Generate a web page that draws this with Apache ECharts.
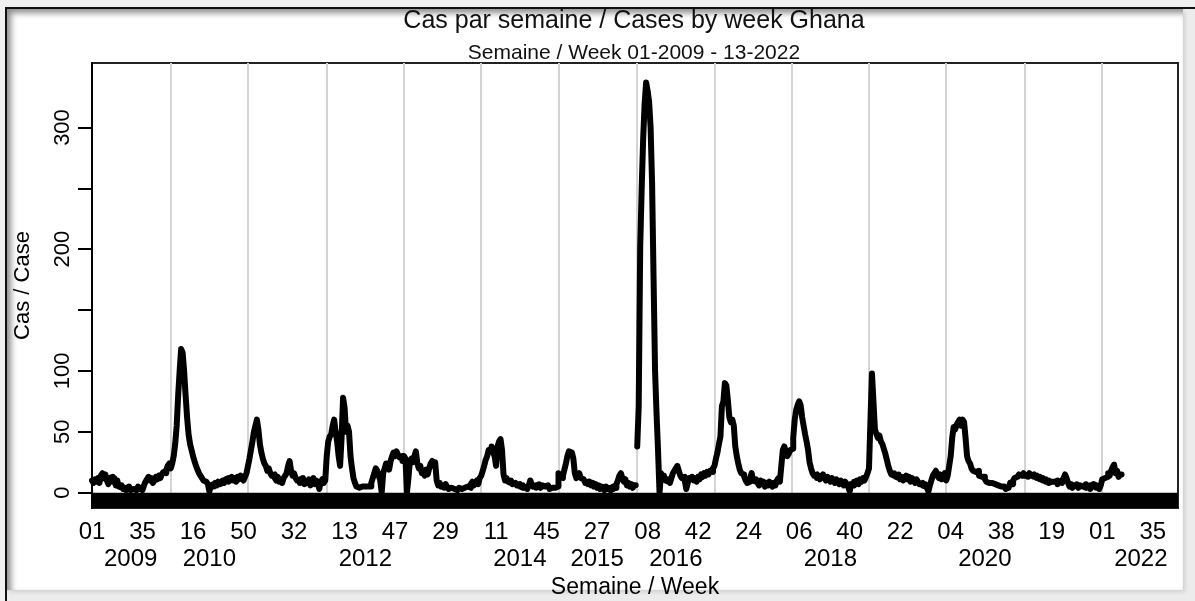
<!DOCTYPE html>
<html>
<head>
<meta charset="utf-8">
<title>Cas par semaine / Cases by week Ghana</title>
<script src="https://cdn.jsdelivr.net/npm/echarts@6/dist/echarts.min.js"></script>
<style>
  html, body { margin: 0; padding: 0; background: #f0f0f0; overflow: hidden; }
  #frame { position: absolute; left: 5px; top: 7px; width: 1190px; height: 594px;
           border-top: 2px solid #111; border-left: 2px solid #111; background: #ececec; }
  #panel { position: absolute; left: 0; top: 0; width: 1176px; height: 581px; background: #fff;
           box-shadow: inset 4px 4px 6px rgba(0,0,0,0.45), 2px 2px 4px rgba(0,0,0,0.12); }
  #chart { position: absolute; left: 0; top: 0; width: 1195px; height: 601px; }
</style>
</head>
<body>
<div id="frame"><div id="panel"></div></div>
<div id="chart"></div>
<script>
// weekly cases, one array per year (week 01 first)
const years = [2009, 2010, 2011, 2012, 2013, 2014, 2015, 2016, 2017, 2018, 2019, 2020, 2021, 2022]
const weeksInYear = [53, 52, 53, 52, 52, 52, 53, 52, 52, 52, 52, 53, 52, 52]

const cases2009 = [10, 8, 11, 9, 12, 8, 14, 16, 12, 15, 10, 7, 12, 13, 9, 12, 6, 10, 5, 4,
  6, 3, 4, 2, 3, 5, 2, 3, 4, 2, 3, 5, 3, 4, 2, 6, 9, 11, 13, 10,
  12, 8, 10, 13, 11, 14, 12, 15, 17, 16, 19, 22, 24]
const cases2010 = [20, 24, 30, 40, 55, 80, 100, 118, 115, 100, 80, 62, 48, 40, 35, 30, 26, 22, 19, 16,
  14, 12, 10, 9, 8, 7, 1, 6, 7, 5, 8, 6, 9, 7, 8, 10, 8, 11, 12, 9,
  11, 13, 10, 12, 9, 13, 11, 14, 12, 10, 13, 16]
const cases2011 = [22, 28, 35, 42, 50, 55, 60, 52, 40, 33, 28, 24, 22, 18, 20, 16, 14, 15, 12, 10,
  13, 9, 11, 8, 12, 14, 16, 22, 26, 18, 14, 16, 12, 10, 11, 8, 9, 12, 7, 10,
  8, 11, 6, 9, 12, 7, 10, 8, 3, 9, 11, 8, 10]
const cases2012 = [30, 42, 46, 48, 55, 60, 50, 42, 30, 22, 45, 78, 70, 50, 55, 50, 30, 20, 12, 8,
  5, 4, 5, 5, 4, 5, 4, 5, 6, 5, 8, 12, 16, 20, 18, 14, 10, 0, 16, 20,
  24, 22, 19, 26, 30, 33, 30, 34, 31, 29, 30, 26]
const cases2013 = [30, 28, 0, 12, 26, 28, 25, 30, 34, 24, 20, 22, 16, 18, 14, 19, 15, 20, 24, 26,
  22, 25, 10, 6, 8, 5, 6, 4, 7, 5, 3, 4, 5, 3, 4, 2, 3, 4, 3, 2,
  4, 3, 5, 6, 4, 7, 9, 6, 8, 10, 7, 12]
const cases2014 = [14, 18, 22, 27, 30, 35, 36, 38, 33, 30, 22, 38, 42, 44, 35, 15, 10, 12, 9, 8,
  10, 7, 8, 9, 6, 7, 5, 4, 6, 4, 5, 3, 6, 10, 7, 5, 6, 4, 5, 7,
  4, 6, 5, 4, 6, 5, 3, 4, 5, 4, 3, 5]
const cases2015 = [16, 13, 12, 14, 19, 24, 30, 34, 33, 32, 28, 16, 12, 14, 16, 12, 11, 10, 8, 9,
  7, 9, 6, 8, 5, 7, 4, 6, 3, 5, 4, 2, 5, 3, 4, 2, 3, 5, 4, 7,
  10, 14, 16, 12, 9, 11, 6, 8, 5, 7, 4, 6, null]
const cases2016 = [38, 71, 202, 250, 291, 320, 337, 330, 321, 300, 254, 176, 100, 65, 35, 0, 16, 12, 14, 10,
  9, 11, 8, 12, 16, 18, 20, 22, 18, 14, 12, 13, 10, 3, 8, 12, 11, 13, 10, 12,
  9, 13, 11, 15, 13, 16, 14, 17, 15, 18, 17, 20]
const cases2017 = [22, 28, 33, 40, 46, 71, 75, 90, 88, 76, 62, 58, 60, 55, 38, 30, 24, 19, 16, 15,
  13, 10, 8, 9, 12, 16, 10, 9, 11, 8, 6, 10, 7, 9, 5, 8, 6, 9, 7, 5,
  8, 6, 10, 12, 9, 22, 35, 38, 34, 30, 32, 35]
const cases2018 = [36, 45, 60, 68, 72, 75, 72, 62, 55, 48, 42, 35, 25, 20, 16, 14, 15, 12, 14, 11,
  13, 15, 12, 10, 13, 11, 9, 12, 10, 8, 11, 9, 7, 10, 8, 6, 9, 7, 5, 1,
  7, 6, 9, 8, 10, 7, 11, 9, 12, 10, 13, 16]
const cases2019 = [20, 60, 98, 75, 52, 48, 45, 47, 42, 40, 36, 32, 27, 22, 18, 15, 14, 16, 13, 12,
  15, 11, 13, 10, 12, 14, 11, 13, 9, 12, 10, 8, 11, 9, 7, 8, 6, 5, 7, 4,
  1, 6, 10, 14, 16, 18, 14, 12, 15, 11, 13, 16]
const cases2020 = [10, 14, 22, 30, 45, 54, 52, 56, 58, 60, 55, 60, 58, 45, 30, 26, 24, 20, 18, 17,
  16, 18, 14, 13, 12, 13, 11, 9, 8, 7, 8, 9, 7, 8, 6, 7, 5, 4, 5, 4,
  3, 4, 5, 8, 7, 10, 12, 13, 14, 15, 14, 15, 16]
const cases2021 = [14, 15, 13, 16, 14, 15, 13, 14, 12, 13, 11, 12, 10, 11, 9, 10, 8, 9, 10, 9,
  8, 10, 7, 9, 8, 10, 12, 15, 12, 8, 5, 7, 4, 6, 5, 7, 4, 6, 5, 6,
  4, 7, 5, 6, 3, 5, 7, 6, 4, 5, 3, 6]
const cases2022 = [11, 12, 12, 13, 16, 14, 18, 21, 23, 16, 18, 13, 15]

const yearCases = [cases2009, cases2010, cases2011, cases2012, cases2013, cases2014, cases2015,
  cases2016, cases2017, cases2018, cases2019, cases2020, cases2021, cases2022]

// axis labels
const weekLabelStep = 34
const yearLabelYears = [2009, 2010, 2012, 2014, 2015, 2016, 2018, 2020, 2022]
const yTicks = [0, 50, 100, 150, 200, 250, 300]
const yTickLabels = [0, 50, 100, 200, 300]
const yMin = -12.6
const yMax = 353

const font = 'Liberation Sans, Arial, sans-serif'

const weekLabels = []
const values = []
const yearStarts = new Set()
const yearMid = {}
let pos = 0
years.forEach((y, i) => {
  if (pos > 0) yearStarts.add(pos)
  for (let w = 1; w <= weeksInYear[i]; w++) {
    weekLabels.push(String(w).padStart(2, '0'))
    const v = yearCases[i][w - 1]
    values.push(v === undefined ? null : v)
  }
  if (yearLabelYears.includes(y)) yearMid[pos + 26] = String(y)
  pos += weeksInYear[i]
})

const chart = echarts.init(document.getElementById('chart'))

const option = {
  animation: false,
  title: {
    text: 'Cas par semaine / Cases by week Ghana',
    subtext: 'Semaine / Week 01-2009 - 13-2022',
    left: 629,
    top: 4,
    textAlign: 'center',
    itemGap: 9,
    textStyle: { fontFamily: font, fontSize: 25, fontWeight: 'normal', color: '#111' },
    subtextStyle: { fontFamily: font, fontSize: 21, color: '#111' }
  },
  grid: {
    left: 92, right: 17, top: 63, bottom: 93,
    outerBoundsMode: 'none',
    show: true, borderColor: '#222', borderWidth: 2
  },
  xAxis: [
    {
      type: 'category',
      data: weekLabels,
      boundaryGap: false,
      axisLine: { show: false },
      axisTick: { show: false },
      axisLabel: {
        interval: (i) => i % weekLabelStep === 0,
        fontFamily: font, fontSize: 24, color: '#000', margin: 12
      },
      splitLine: {
        show: true,
        interval: (i) => yearStarts.has(i),
        lineStyle: { color: '#d4d4d4', width: 2 }
      },
      name: 'Semaine / Week',
      nameLocation: 'middle',
      nameGap: 68,
      nameTextStyle: { fontFamily: font, fontSize: 23, color: '#000' }
    },
    {
      type: 'category',
      data: weekLabels,
      boundaryGap: false,
      position: 'bottom',
      offset: 27,
      axisLine: { show: false },
      axisTick: { show: false },
      splitLine: { show: false },
      axisLabel: {
        interval: (i) => yearMid[i] !== undefined,
        formatter: (v, i) => yearMid[i] || '',
        fontFamily: font, fontSize: 24, color: '#000', margin: 12
      }
    }
  ],
  yAxis: {
    type: 'value',
    min: yMin,
    max: yMax,
    axisLine: { show: true, lineStyle: { color: '#000', width: 2 } },
    axisTick: { show: true, length: 14, customValues: yTicks, lineStyle: { color: '#000', width: 2 } },
    axisLabel: { customValues: yTickLabels, rotate: 90, fontFamily: font, fontSize: 22, color: '#000', margin: 18 },
    splitLine: { show: false },
    name: 'Cas / Case',
    nameLocation: 'middle',
    nameGap: 58,
    nameTextStyle: { fontFamily: font, fontSize: 22, color: '#000' }
  },
  series: [
    {
      name: 'Cas / Case',
      type: 'line',
      xAxisIndex: 0,
      data: values,
      step: 'end',
      symbol: 'none',
      connectNulls: false,
      silent: true,
      lineStyle: { color: '#000', width: 6, join: 'round', cap: 'round' },
      markArea: {
        silent: true,
        itemStyle: { color: '#000' },
        data: [[{ yAxis: 0 }, { yAxis: yMin }]]
      }
    }
  ]
}

chart.setOption(option)
</script>
</body>
</html>
